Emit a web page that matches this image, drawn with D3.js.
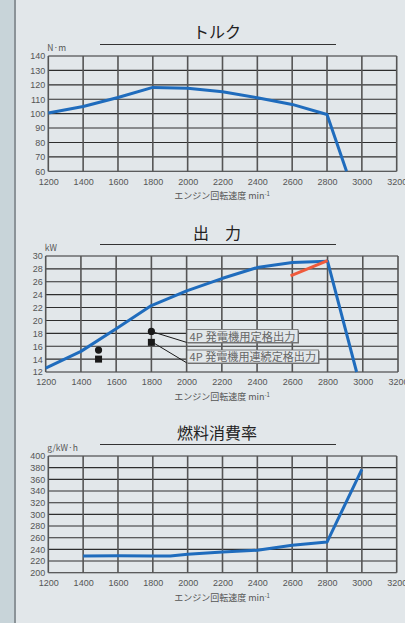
<!DOCTYPE html>
<html>
<head>
<meta charset="utf-8">
<script src="https://cdn.jsdelivr.net/npm/d3@7"></script>
<style>
  body { margin: 0; background: #e2e7ea; }
  svg { display: block; font-family: "Noto Sans CJK JP", "Noto Sans", sans-serif; }
</style>
</head>
<body>
<svg id="chart" width="405" height="623"></svg>
<script>
// x axis (engine speed, min-1)
const rpmTicks = [1200, 1400, 1600, 1800, 2000, 2200, 2400, 2600, 2800, 3000, 3200]

// torque N·m
const torqueRpm = [1200, 1400, 1600, 1800, 2000, 2200, 2400, 2600, 2800, 2912]
const torqueVal = [100.5, 105, 111.2, 118.2, 117.6, 115.2, 111, 106.4, 99.4, 60]

// output kW
const powerRpm = [1200, 1400, 1600, 1800, 2000, 2200, 2400, 2600, 2800, 2965]
const powerVal = [12.6, 15.2, 18.7, 22.3, 24.6, 26.5, 28.2, 29.0, 29.2, 12]
const powerRedRpm = [2590, 2800]
const powerRedVal = [26.9, 29.3]
// generator ratings (circle = 定格, square = 連続定格)
const ratedRpm = [1500, 1800]
const ratedVal = [15.4, 18.3]
const contRpm = [1500, 1800]
const contVal = [14.0, 16.6]

// fuel consumption g/kW·h
const fuelRpm = [1400, 1600, 1800, 1900, 2000, 2200, 2400, 2600, 2800, 3000]
const fuelVal = [228.5, 229, 228.5, 228.5, 231.5, 235.5, 238.5, 247, 252.5, 377]

const svg = d3.select("#chart")

// left strip
svg.append("rect").attr("x", 0).attr("y", 0).attr("width", 14).attr("height", 623).attr("fill", "#c8d4d9")
svg.append("rect").attr("x", 14).attr("y", 0).attr("width", 2).attr("height", 623).attr("fill", "#8b9398")

const blue = "#1f6cbd"

function drawPanel(opt)
{
    const g = svg.append("g")

    const x = d3.scaleLinear().domain([1200, 3200]).range([opt.left, opt.right])
    const y = d3.scaleLinear().domain(opt.yDomain).range([opt.bottom, opt.top])

    // title + rule
    g.append("text")
        .attr("x", 217).attr("y", opt.titleY)
        .attr("text-anchor", "middle")
        .attr("font-size", 16)
        .attr("fill", "#222")
        .attr("xml:space", "preserve")
        .text(opt.title)
    g.append("line")
        .attr("x1", 100).attr("x2", 336)
        .attr("y1", opt.ruleY).attr("y2", opt.ruleY)
        .attr("stroke", "#333").attr("stroke-width", 1)

    // unit
    g.append("text")
        .attr("x", opt.left - 1).attr("y", opt.top - 5)
        .attr("font-size", 8.5).attr("fill", "#555")
        .text(opt.unit)

    // grid
    g.append("g").selectAll("line")
        .data(opt.yTicks)
        .join("line")
        .attr("x1", opt.left).attr("x2", opt.right)
        .attr("y1", d => y(d)).attr("y2", d => y(d))
        .attr("stroke", "#2e2e2e").attr("stroke-width", 1.1)
    g.append("g").selectAll("line")
        .data(rpmTicks)
        .join("line")
        .attr("x1", d => x(d)).attr("x2", d => x(d))
        .attr("y1", opt.top).attr("y2", opt.bottom)
        .attr("stroke", "#555").attr("stroke-width", 1.6)

    // axes labels
    const xAxis = g.append("g")
        .attr("transform", `translate(0, ${opt.bottom})`)
        .call(d3.axisBottom(x).tickValues(rpmTicks).tickSize(0).tickPadding(7).tickFormat(d3.format("d")))
    xAxis.select(".domain").remove()
    xAxis.selectAll("text").attr("font-size", 9).attr("fill", "#555").attr("font-family", "Liberation Sans, sans-serif")

    const yAxis = g.append("g")
        .attr("transform", `translate(${opt.left}, 0)`)
        .call(d3.axisLeft(y).tickValues(opt.yTicks).tickSize(0).tickPadding(3).tickFormat(d3.format("d")))
    yAxis.select(".domain").remove()
    yAxis.selectAll("text").attr("font-size", 9).attr("fill", "#555").attr("font-family", "Liberation Sans, sans-serif")

    const xt = g.append("text")
        .attr("x", 222).attr("y", opt.bottom + 28)
        .attr("text-anchor", "middle")
        .attr("font-size", 9).attr("fill", "#555")
    xt.append("tspan").text("エンジン回転速度 min")
    xt.append("tspan").attr("dy", -3).attr("font-size", 6).text("-1")

    // data line
    const line = d3.line().x(d => x(d[0])).y(d => y(d[1]))
    g.append("path")
        .datum(d3.zip(opt.xs, opt.ys))
        .attr("fill", "none")
        .attr("stroke", blue)
        .attr("stroke-width", 3)
        .attr("stroke-linejoin", "round")
        .attr("d", line)

    return { g, x, y }
}

// トルク
drawPanel({
    title: "トルク", titleY: 38, ruleY: 44.5, unit: "N·m",
    left: 48.3, right: 396.7, top: 56, bottom: 171.3,
    yDomain: [60, 140], yTicks: d3.range(60, 141, 10),
    xs: torqueRpm, ys: torqueVal
})

// 出力
const p = drawPanel({
    title: "出　力", titleY: 239, ruleY: 244.5, unit: "kW",
    left: 45.7, right: 398, top: 256, bottom: 372,
    yDomain: [12, 30], yTicks: d3.range(12, 31, 2),
    xs: powerRpm, ys: powerVal
})

p.g.append("path")
    .datum(d3.zip(powerRedRpm, powerRedVal))
    .attr("fill", "none")
    .attr("stroke", "#ef5a3c")
    .attr("stroke-width", 3)
    .attr("d", d3.line().x(d => p.x(d[0])).y(d => p.y(d[1])))

p.g.selectAll(".rated")
    .data(d3.zip(ratedRpm, ratedVal))
    .join("circle")
    .attr("class", "rated")
    .attr("cx", d => p.x(d[0])).attr("cy", d => p.y(d[1]))
    .attr("r", 3.6).attr("fill", "#1a1a1a")

p.g.selectAll(".cont")
    .data(d3.zip(contRpm, contVal))
    .join("rect")
    .attr("class", "cont")
    .attr("x", d => p.x(d[0]) - 3.5).attr("y", d => p.y(d[1]) - 3.5)
    .attr("width", 7).attr("height", 7).attr("fill", "#1a1a1a")

// callouts
const callouts = [
    { text: "4P 発電機用定格出力", rpm: ratedRpm[1], val: ratedVal[1], bx: 187, by: 329.5, bw: 111 },
    { text: "4P 発電機用連続定格出力", rpm: contRpm[1], val: contVal[1], bx: 187, by: 350, bw: 131.5 }
]
callouts.forEach(c => {
    p.g.append("line")
        .attr("x1", p.x(c.rpm) + 3).attr("y1", p.y(c.val) + 1)
        .attr("x2", c.bx).attr("y2", c.by + 13)
        .attr("stroke", "#1a1a1a").attr("stroke-width", 1)
    p.g.append("rect")
        .attr("x", c.bx + 1).attr("y", c.by + 1)
        .attr("width", c.bw).attr("height", 13)
        .attr("fill", "#777")
    p.g.append("rect")
        .attr("x", c.bx).attr("y", c.by)
        .attr("width", c.bw).attr("height", 13)
        .attr("fill", "#e2e7ea").attr("stroke", "#666").attr("stroke-width", 0.8)
    p.g.append("text")
        .attr("x", c.bx + 2.5).attr("y", c.by + 11)
        .attr("font-size", 11).attr("fill", "#666")
        .attr("textLength", c.bw - 5)
        .attr("lengthAdjust", "spacingAndGlyphs")
        .text(c.text)
})

// 燃料消費率
drawPanel({
    title: "燃料消費率", titleY: 439, ruleY: 444.5, unit: "g/kW·h",
    left: 48.3, right: 396.7, top: 456, bottom: 572.7,
    yDomain: [200, 400], yTicks: d3.range(200, 401, 20),
    xs: fuelRpm, ys: fuelVal
})
</script>
</body>
</html>
